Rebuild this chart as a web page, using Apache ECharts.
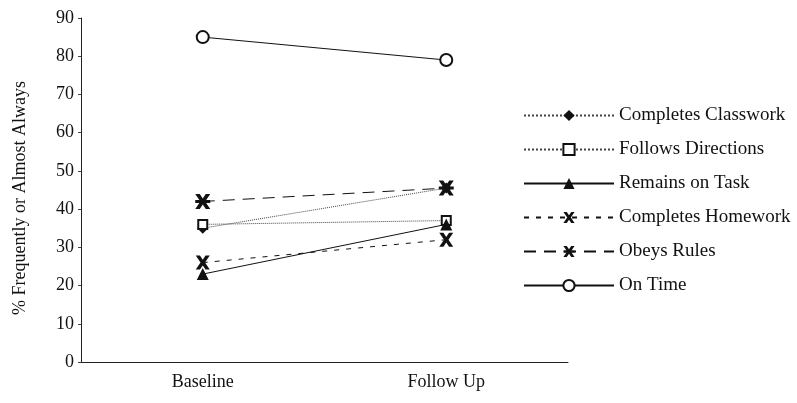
<!DOCTYPE html>
<html><head><meta charset="utf-8">
<script src="https://cdn.jsdelivr.net/npm/echarts@6/dist/echarts.min.js"></script>
<style>html,body{margin:0;padding:0;background:#fff}#c{width:797px;height:403px}</style>
</head><body><div id="c"></div>
<script>
const categories = ['Baseline', 'Follow Up'];
const seriesNames = ['Completes Classwork', 'Follows Directions', 'Remains on Task', 'Completes Homework', 'Obeys Rules', 'On Time'];
const completesClasswork = [35, 45.5];
const followsDirections = [36, 37];
const remainsOnTask = [23, 36];
const completesHomework = [26, 32];
const obeysRules = [42, 45.5];
const onTime = [85, 79];
const yTicks = [0, 10, 20, 30, 40, 50, 60, 70, 80, 90];

const xPath = 'path://M0,0 L3,0 L5,3 L7,0 L10,0 L6.6,5 L10,10 L7,10 L5,7 L3,10 L0,10 L3.4,5 Z';
const starPath = 'path://M0,0 L3,0 L5,3 L7,0 L10,0 L6.6,5 L10,10 L7,10 L5,7 L3,10 L0,10 L3.4,5 Z M0,4 L10,4 L10,6 L0,6 Z';
const font = 'Liberation Serif';

function mk(name, data, symbol, size, lineType, color, width, fill) {
  return {
    name, type: 'line', data, symbol, symbolSize: size,
    lineStyle: { color, width, type: lineType },
    itemStyle: { color: fill, borderColor: '#111', borderWidth: (fill === '#fff') ? 2 : 0 },
    emphasis: { disabled: true }, animation: false
  };
}

const chart = echarts.init(document.getElementById('c'));
chart.setOption({
  backgroundColor: '#fff',
  textStyle: { fontFamily: font },
  grid: { left: 81, right: 229, top: 18, bottom: 41 },
  xAxis: {
    type: 'category', data: categories,
    axisLine: { lineStyle: { color: '#222', width: 1 } },
    axisTick: { lineStyle: { color: '#222' }, length: 4 },
    axisLabel: { color: '#111', fontSize: 18, fontFamily: font, margin: 11 }
  },
  yAxis: {
    type: 'value', min: 0, max: 90, interval: 10,
    name: '% Frequently or Almost Always', nameLocation: 'middle', nameGap: 52,
    nameTextStyle: { color: '#111', fontSize: 18, fontFamily: font, padding: [0, 16, 0, 0] },
    axisLine: { show: true, lineStyle: { color: '#222', width: 1 } },
    axisTick: { show: true, length: 3, lineStyle: { color: '#444' } },
    splitLine: { show: false },
    axisLabel: { color: '#111', fontSize: 18, fontFamily: font, margin: 7,
      formatter: v => yTicks.includes(v) ? String(v) : '' }
  },
  legend: {
    orient: 'vertical', left: 523, top: 106, padding: 0,
    itemWidth: 90, itemHeight: 14, itemGap: 15,
    textStyle: { color: '#111', fontSize: 19, fontFamily: font },
    data: seriesNames
  },
  series: [
    mk(seriesNames[0], completesClasswork, 'diamond', 11, 'dotted', '#444', 1, '#111'),
    mk(seriesNames[1], followsDirections, 'rect', 9, 'dotted', '#444', 1, '#fff'),
    mk(seriesNames[2], remainsOnTask, 'triangle', 12, 'solid', '#111', 1, '#111'),
    mk(seriesNames[3], completesHomework, xPath, 14, [5, 7], '#111', 1, '#111'),
    mk(seriesNames[4], obeysRules, starPath, 15, [12, 8], '#111', 1, '#111'),
    mk(seriesNames[5], onTime, 'circle', 12, 'solid', '#111', 1, '#fff')
  ]
});
</script></body></html>
